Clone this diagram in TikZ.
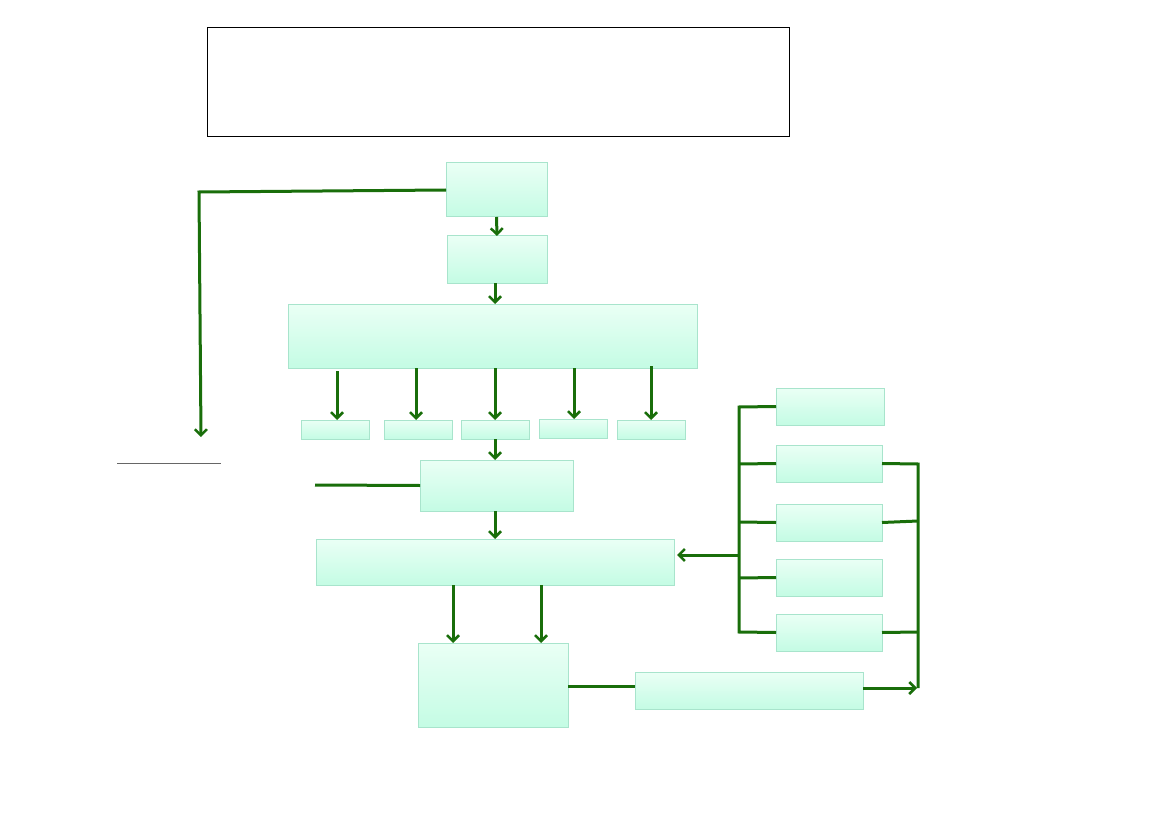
\documentclass[tikz,border=0pt]{standalone}
\usetikzlibrary{arrows.meta}
\definecolor{gline}{RGB}{25,110,10}
\definecolor{btop}{RGB}{234,255,245}
\definecolor{bbot}{RGB}{196,252,228}
\definecolor{bdr}{RGB}{168,228,204}
\begin{document}
\begin{tikzpicture}[x=1pt,y=-1pt,
  gbox/.style={draw=bdr,line width=1pt,top color=btop,bottom color=bbot,inner sep=0pt},
  conn/.style={draw=gline,line width=3pt},
  arr/.style={conn,-{Straight Barb[length=6pt,width=12pt,line width=2.5pt]}}]
\useasboundingbox (0,0) rectangle (1169,826);
\newcommand{\bx}[5]{\path[gbox] (#2,#3) rectangle (#4,#5); \coordinate (#1) at ({(#2+#4)/2},{(#3+#5)/2}); \coordinate (#1n) at ({(#2+#4)/2},#3); \coordinate (#1s) at ({(#2+#4)/2},#5); \coordinate (#1w) at (#2,{(#3+#5)/2}); \coordinate (#1e) at (#4,{(#3+#5)/2});}
\draw[black,line width=1pt] (207,28) rectangle (789,137);
\bx{b1}{446}{163}{547}{217}
\bx{b2}{447}{236}{547}{283}
\bx{b3}{288}{304}{697}{368}
\bx{s1}{301}{420}{369}{439}
\bx{s2}{384}{420}{452}{439}
\bx{s3}{461}{420}{529}{439}
\bx{s4}{539}{419}{607}{438}
\bx{s5}{617}{420}{685}{439}
\bx{b4}{420}{460}{573}{511}
\bx{b5}{316}{539}{674}{585}
\bx{b6}{418}{643}{568}{727}
\bx{r1}{776}{388}{884}{425}
\bx{r2}{776}{445}{882}{482}
\bx{r3}{776}{504}{882}{541}
\bx{r4}{776}{559}{882}{596}
\bx{r5}{776}{614}{882}{651}
\bx{b7}{635}{672}{863}{709}
\coordinate (lend) at (201,437);
\draw[arr] (446,190) -- (199,192) -- (lend);
\draw[gray!80!black,line width=1pt] (117,463) -- (221,463);
\coordinate (lfree) at (315,485);
\draw[conn] (lfree) -- (b4w);
\draw[arr] (b1s) -- (b2n);
\draw[arr] (495,283) -- (495,304);
\draw[arr] (337,371) -- (337,420);
\draw[arr] (416,368) -- (416,420);
\draw[arr] (495,368) -- (495,420);
\draw[arr] (574,368) -- (574,419);
\draw[arr] (651,366) -- (651,420);
\draw[arr] (s3s) -- (495,460);
\draw[arr] (495,511) -- (495,539);
\draw[arr] (453,585) -- (453,643);
\draw[arr] (541,585) -- (541,643);
\coordinate (lb1) at (739,407); \coordinate (lb2) at (739,632);
\draw[conn] (r1w) -- (lb1) -- (lb2) -- (r5w);
\draw[conn] (739,464) -- (r2w);
\draw[conn] (739,522) -- (r3w);
\draw[conn] (739,578) -- (r4w);
\draw[arr] (739,555) -- (677,555);
\draw[conn] (r2e) -- (918,464) -- (918,688);
\draw[conn] (r3e) -- (918,521);
\draw[conn] (r5e) -- (918,632);
\draw[conn] (568,686) -- (635,686);
\draw[arr] (863,688) -- (917,688);
\end{tikzpicture}
\end{document}
